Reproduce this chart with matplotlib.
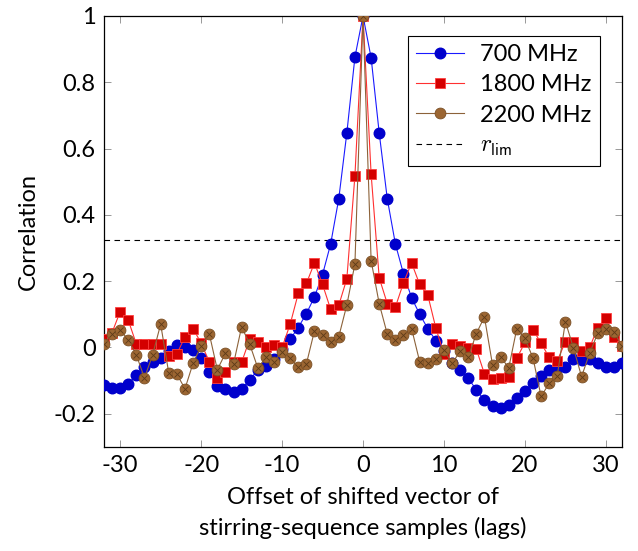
import numpy as np
import matplotlib
matplotlib.use("Agg")
import matplotlib.pyplot as plt

plt.rcParams['font.family'] = ['Lato', 'DejaVu Sans']
plt.rcParams['axes.unicode_minus'] = False
plt.rcParams['mathtext.fontset'] = 'cm'

# lags -32 .. 32
lags = list(range(-32, 33))

corr_700 = [
    -0.113, -0.123, -0.122, -0.110, -0.083, -0.058, -0.045, -0.033,
    -0.010, 0.007, 0.002, -0.008, -0.033, -0.075, -0.116, -0.125,
    -0.133, -0.125, -0.098, -0.068, -0.055, -0.035, -0.005, 0.025,
    0.060, 0.102, 0.152, 0.220, 0.312, 0.448, 0.647, 0.876,
    1.0,
    0.874, 0.647, 0.448, 0.312, 0.222, 0.150, 0.100, 0.057,
    0.020, -0.010, -0.048, -0.068, -0.093, -0.128, -0.160, -0.176,
    -0.183, -0.173, -0.153, -0.130, -0.108, -0.085, -0.068, -0.063,
    -0.058, -0.035, -0.037, -0.035, -0.048, -0.058, -0.060, -0.048,
]

corr_1800 = [
    0.025, 0.045, 0.108, 0.082, 0.010, 0.010, 0.010, 0.010,
    -0.025, -0.020, 0.032, 0.057, 0.013, -0.043, -0.093, -0.075,
    -0.045, -0.045, 0.025, 0.015, 0.002, 0.007, 0.000, 0.070,
    0.163, 0.193, 0.255, 0.190, 0.115, 0.127, 0.207, 0.518,
    1.0,
    0.523, 0.210, 0.132, 0.122, 0.195, 0.255, 0.190, 0.158,
    0.058, -0.020, 0.010, 0.003, -0.002, -0.005, -0.080, -0.095,
    -0.093, -0.090, -0.033, 0.015, 0.053, 0.013, -0.030, -0.040,
    0.017, 0.017, -0.010, 0.000, 0.060, 0.090, 0.030, 0.003,
]

corr_2200 = [
    0.010, 0.042, 0.052, 0.023, -0.023, -0.092, -0.023, 0.070,
    -0.077, -0.080, -0.125, -0.048, 0.005, 0.042, -0.067, -0.018,
    -0.050, 0.062, 0.010, -0.062, -0.030, -0.043, -0.013, -0.033,
    -0.060, -0.050, 0.050, 0.037, 0.015, 0.032, 0.128, 0.252,
    1.0,
    0.262, 0.132, 0.040, 0.022, 0.037, 0.057, -0.043, -0.047,
    -0.035, -0.008, -0.048, -0.012, -0.030, 0.042, 0.092, -0.053,
    -0.028, -0.062, 0.057, 0.027, -0.032, -0.148, -0.108, -0.085,
    0.078, -0.002, -0.088, -0.017, 0.043, 0.057, 0.048, 0.003,
]

r_lim = 0.325

fig = plt.figure(figsize=(6.38, 5.51), dpi=100)
ax = fig.add_axes([0.163, 0.189, 0.812, 0.782])

ax.plot(lags, corr_700, color='#1a1aff', lw=0.8, marker='o', markersize=7.6,
        markerfacecolor='#0000cc', markeredgecolor='#0000cc', label='700 MHz', zorder=3)
ax.plot(lags, corr_1800, color='#ff3030', lw=0.8, marker='s', markersize=7.2,
        markerfacecolor='#d40000', markeredgecolor='#ff4040', markeredgewidth=0.6,
        label='1800 MHz', zorder=4)
ax.plot(lags, corr_2200, color='#8c6239', lw=0.8, marker='o', markersize=7.8,
        markerfacecolor='#9c6632', markeredgecolor='#7a4f25', markeredgewidth=0.6,
        label='2200 MHz', zorder=5)
# cross inside the brown markers
ax.plot(lags, corr_2200, linestyle='none', marker='x', markersize=5.0,
        markeredgecolor='#5c3a18', markeredgewidth=0.6, zorder=6)
ax.axhline(r_lim, color='black', lw=0.8, linestyle=(0, (5, 4)), label=r'$r_{\mathsf{lim}}$', zorder=2)

ax.set_xlim(-32, 32)
ax.set_ylim(-0.3, 1.0)
ax.set_xticks([-30, -20, -10, 0, 10, 20, 30])
ax.set_yticks([-0.2, 0, 0.2, 0.4, 0.6, 0.8, 1.0])
ax.set_yticklabels(['-0.2', '0', '0.2', '0.4', '0.6', '0.8', '1'])
ax.set_xticklabels(['-30', '-20', '-10', '0', '10', '20', '30'])
ax.tick_params(direction='in', length=5, width=0.6, color='#888888', labelsize=17,
               top=True, right=True, pad=6)
for s in ax.spines.values():
    s.set_linewidth(0.9)

ax.set_ylabel('Correlation', fontsize=17, labelpad=11)
ax.set_xlabel('Offset of shifted vector of\nstirring-sequence samples (lags)', fontsize=17,
              labelpad=8, linespacing=1.5)

leg = ax.legend(loc='upper right', fontsize=17, frameon=True, fancybox=False,
                edgecolor='black', framealpha=1, handlelength=2.0, borderpad=0.35,
                labelspacing=0.4, handletextpad=0.7, bbox_to_anchor=(0.98, 0.982))
leg.get_frame().set_linewidth(0.8)

fig.savefig('out.png', dpi=100)
